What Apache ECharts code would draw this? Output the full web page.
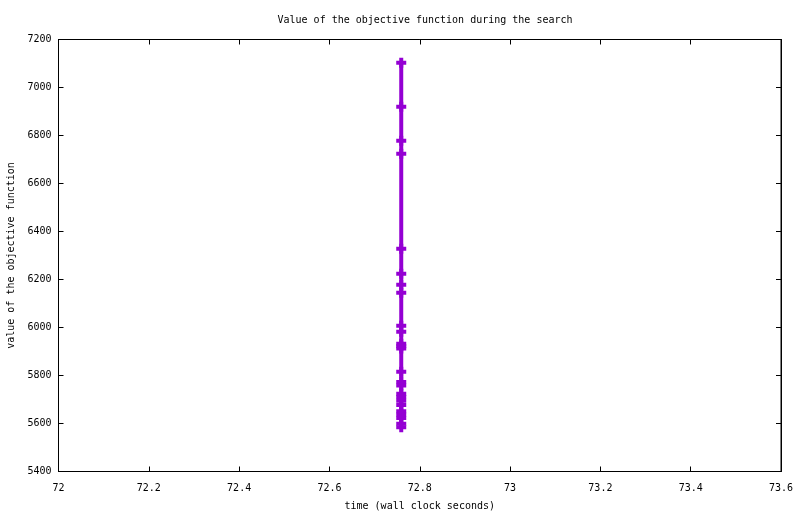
<!DOCTYPE html>
<html>
<head>
<meta charset="utf-8">
<script src="https://cdn.jsdelivr.net/npm/echarts@6/dist/echarts.min.js"></script>
<style>
  html, body { margin: 0; padding: 0; background: #fff; }
  #chart { width: 800px; height: 514px; }
</style>
</head>
<body>
<div id="chart"></div>
<script>
// time stamps (all evaluations landed at the same wall clock time)
var times = [72.759, 72.759, 72.759, 72.759, 72.759, 72.759, 72.759, 72.759, 72.759, 72.759,
             72.759, 72.759, 72.759, 72.759, 72.759, 72.759, 72.759, 72.759, 72.759, 72.759,
             72.759, 72.759, 72.759, 72.759, 72.759];
// objective values, in search order
var objective = [7103, 6920, 6778, 6724, 6328, 6224, 6178, 6145, 6007, 5982,
                 5932, 5922, 5912, 5816, 5773, 5758, 5724, 5710, 5695, 5677,
                 5651, 5637, 5623, 5599, 5584];

var points = times.map(function (t, i) { return [t, objective[i]]; });

var font = 'DejaVu Sans Mono';
var plus = 'path://M0,3H3V0H7V3H10V7H7V10H3V7H0Z';

var myChart = echarts.init(document.getElementById('chart'));
var option = {
    animation: false,
    title: {
        text: 'Value of the objective function during the search',
        left: 420,
        top: 10,
        textAlign: 'center',
        textStyle: { fontFamily: font, fontSize: 10, fontWeight: 'normal', color: '#000' }
    },
    grid: {
        left: 58.5, right: 19, top: 39.5, bottom: 42.5,
        outerBoundsMode: 'none', containLabel: false,
        show: true, borderColor: '#000', borderWidth: 1
    },
    xAxis: [{
        type: 'value', min: 72, max: 73.6, interval: 0.2,
        name: 'time (wall clock seconds)',
        nameLocation: 'middle', nameGap: 30,
        nameTextStyle: { fontFamily: font, fontSize: 10, color: '#000' },
        axisLine: { lineStyle: { color: '#000' } },
        axisTick: { inside: true, length: 5, lineStyle: { color: '#000' } },
        axisLabel: {
            fontFamily: font, fontSize: 10, color: '#000', margin: 12,
            formatter: function (v) { return String(+v.toFixed(1)); }
        },
        splitLine: { show: false }
    }, {
        type: 'value', position: 'top', min: 72, max: 73.6, interval: 0.2,
        axisLine: { lineStyle: { color: '#000' } },
        axisTick: { inside: true, length: 5, lineStyle: { color: '#000' } },
        axisLabel: { show: false },
        splitLine: { show: false }
    }],
    yAxis: [{
        type: 'value', min: 5400, max: 7200, interval: 200,
        name: 'value of the objective function',
        nameLocation: 'middle', nameGap: 42,
        nameTextStyle: { fontFamily: font, fontSize: 10, color: '#000' },
        axisLine: { show: true, lineStyle: { color: '#000' } },
        axisTick: { show: true, inside: true, length: 5, lineStyle: { color: '#000' } },
        axisLabel: {
            fontFamily: font, fontSize: 10, color: '#000', margin: 7,
            formatter: function (v) { return String(v); }
        },
        splitLine: { show: false }
    }, {
        type: 'value', position: 'right', min: 5400, max: 7200, interval: 200,
        axisLine: { show: true, lineStyle: { color: '#000' } },
        axisTick: { show: true, inside: true, length: 5, lineStyle: { color: '#000' } },
        axisLabel: { show: false },
        splitLine: { show: false }
    }],
    series: [{
        type: 'line',
        data: points,
        xAxisIndex: 0,
        yAxisIndex: 0,
        symbol: plus,
        symbolSize: [10, 10],
        showAllSymbol: true,
        lineStyle: { color: '#9400d3', width: 4 },
        itemStyle: { color: '#9400d3', borderWidth: 0 }
    }]
};
myChart.setOption(option);
</script>
</body>
</html>
